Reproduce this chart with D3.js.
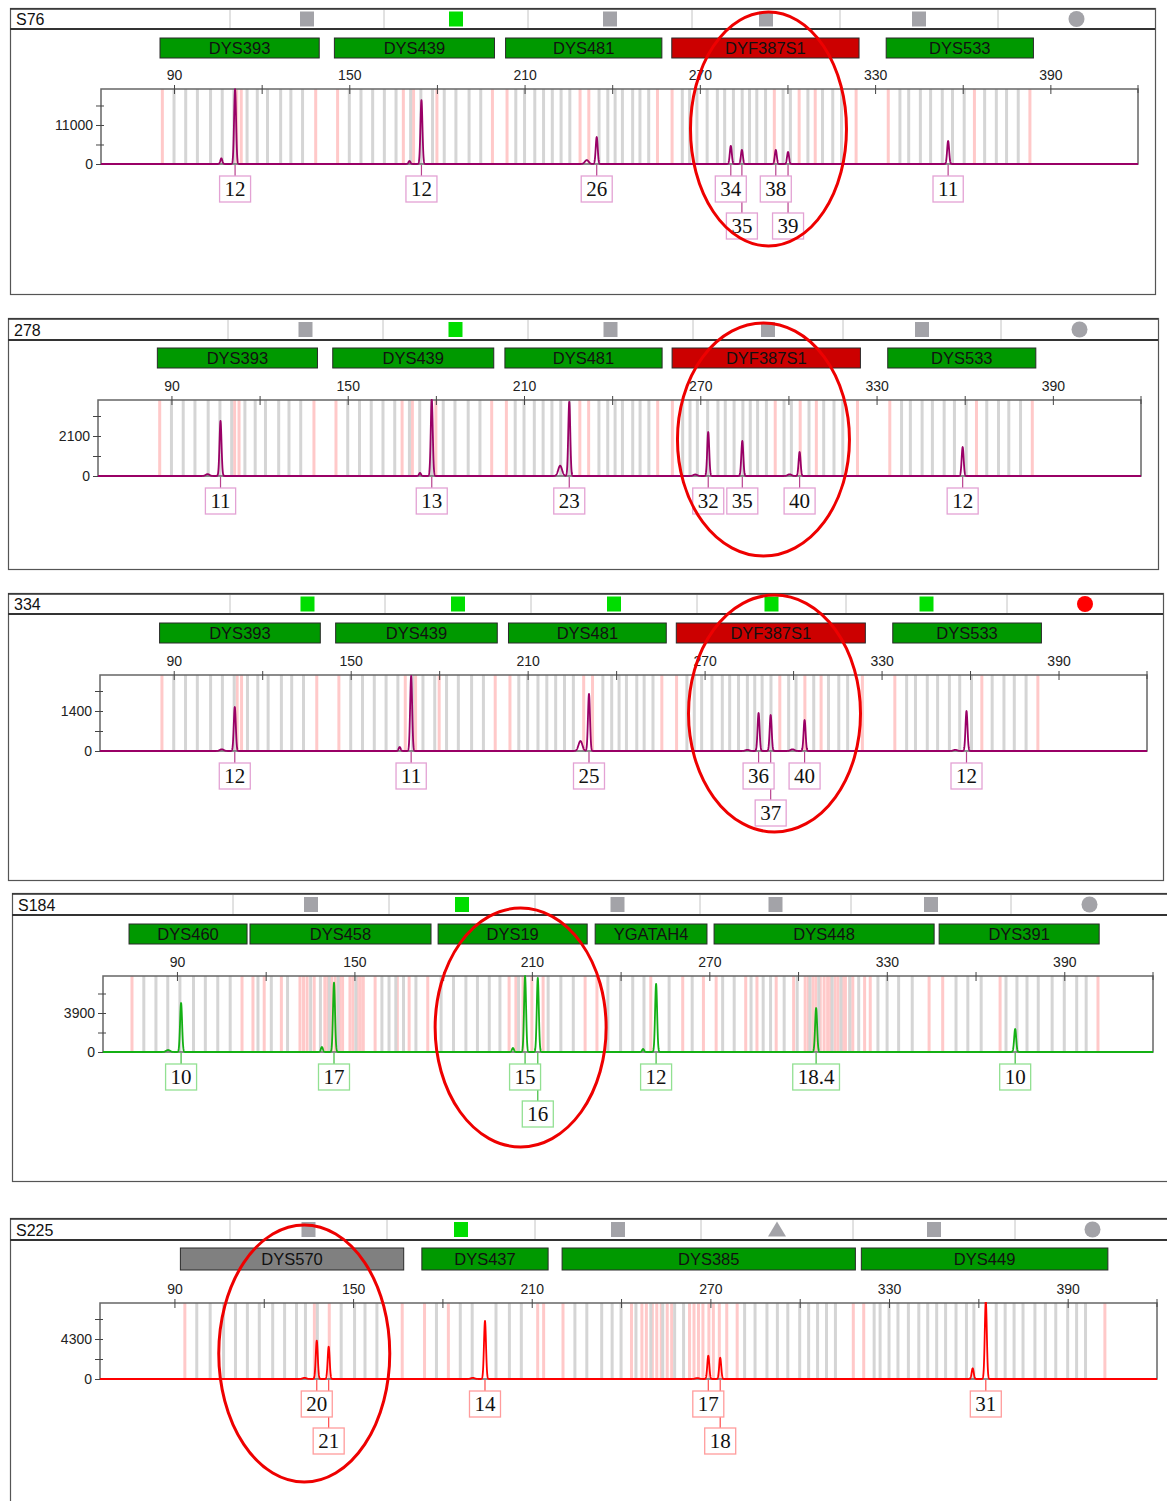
<!DOCTYPE html>
<html>
<head>
<meta charset="utf-8">
<script src="https://cdn.jsdelivr.net/npm/d3@7"></script>
<style>
  body { margin: 0; background: #fff; }
  svg { display: block; }
</style>
</head>
<body>
<svg id="chart" width="1167" height="1501"></svg>
<script>
// ---------- marker panels (size ranges in bp) ----------
const purpleMarkerNames = ["DYS393", "DYS439", "DYS481", "DYF387S1", "DYS533"];
const purpleMarkerStart = [85.2, 144.9, 203.5, 260.4, 333.8];
const purpleMarkerEnd   = [139.7, 199.7, 257.0, 324.5, 384.2];

const greenMarkerNames = ["DYS460", "DYS458", "DYS19", "YGATAH4", "DYS448", "DYS391"];
const greenMarkerStart = [73.8, 114.7, 178.3, 231.4, 271.6, 347.7];
const greenMarkerEnd   = [113.7, 175.9, 228.7, 269.2, 346.0, 401.8];

const redMarkerNames = ["DYS570", "DYS437", "DYS385", "DYS449"];
const redMarkerStart = [92.0, 173.1, 220.2, 320.7];
const redMarkerEnd   = [167.0, 215.5, 318.7, 403.5];

// ---------- allelic ladder bins (bp) ----------
const purpleLadderBins = [90, 94, 98, 102.5, 106.5, 110.5, 115, 118.5, 122, 126.5, 130, 134,
  150, 154, 158, 162, 166, 171, 174.5, 178.5, 182.5, 186.5, 191, 195,
  207, 210, 213.5, 216.5, 219.5, 222.5, 225.5, 235.5, 238.5, 241, 243.5, 247, 249.5, 252.5,
  264, 266.5, 269, 272.5, 276, 278.5, 281.5, 284.5, 287, 289.5, 292.5, 298.5, 301, 307, 312, 315.5, 318.5,
  338.5, 341.5, 345.5, 349, 353, 356.5, 360.5, 367.5, 371.5, 375, 379];
const purpleVirtualBins = [86, 111.5, 113, 138.5, 146, 168.5, 172, 180, 199, 204, 229, 232, 255.5,
  260.5, 295.5, 304, 309.5, 323.5, 334.5, 364, 383];

const greenLadderBins = [78.8, 82.9, 86.9, 91, 95.6, 99.6, 103.8, 108,
  117.4, 121.9, 127.4, 135.2, 138.5, 141.5, 144.5, 150.5, 159.3, 161.7, 164, 166.6, 170.8,
  179.3, 183.5, 187.7, 191.6, 195.6, 199.2, 205.5, 215.5, 219.8, 224,
  235.7, 240, 244.1, 247.9, 256.4, 264.2,
  274.5, 278.4, 284.1, 288.2, 290.7, 295.3, 299.7, 304, 307, 311.5, 314.5, 317.5, 320.5, 327, 330.1, 334, 338.6,
  353.4, 357.4, 361.9, 370.3, 374, 377.4, 381.2, 385.9, 390, 394.2, 397.4];
const greenVirtualBins = [74.8, 112, 115.7, 119.5, 125.3, 131.6, 132.8, 134, 136.4,
  140, 141, 142.3, 143.5, 145, 146, 148.5, 149.5, 151, 152, 153, 157, 164.5, 168.5, 174.8,
  202.3, 204.6, 207, 210, 213.8, 228, 232, 250.2, 261, 268,
  272.3, 282.3, 286.1, 292.6, 298.5, 302.4, 303.5, 305, 306, 307.5, 308.8, 310, 311, 312.5, 313.5,
  315, 316, 317.5, 318.5, 322.5, 324.4, 344.3, 348.9, 368.3, 401.4];

const redLadderBins = [97.5, 102, 106.5, 110.5, 114.5, 118.5, 123, 127, 131, 134, 138, 146, 150.5, 154, 158,
  178, 186, 190, 198, 202.5, 206.5,
  224.5, 228.5, 233.5, 237, 240, 245, 250, 254, 258, 261, 281.5, 285, 289, 292.5, 296, 300, 303, 306, 309, 312,
  325, 327, 330, 333, 336.5, 340, 343, 346, 349, 352.5, 356, 358.5, 366, 369, 372, 375, 379, 382.5, 386, 390, 393, 396];
const redVirtualBins = [93.5, 137, 142, 166.5, 174, 182, 212, 214, 220.5, 243.5, 247, 248.5, 250.5, 252,
  253.5, 255.5, 257, 263, 264.5, 266, 267.5, 269.5, 271, 273, 275.5, 279, 318, 321.5, 402.5];

// ---------- samples ----------
const sampleNames  = ["S76", "278", "334", "S184", "S225"];
const sampleDyes   = ["purple", "purple", "purple", "green", "red"];
const sampleYLabel = [11000, 2100, 1400, 3900, 4300];
const sampleYMax   = [21150, 3990, 2660, 7600, 8170];
const sizeTicks    = [90, 120, 150, 180, 210, 240, 270, 300, 330, 360, 390];
const sizeLabels   = [90, 150, 210, 270, 330, 390];

// per-marker call status for each sample
const sampleMarkerStatus = [
  ["pass", "pass", "pass", "fail", "pass"],
  ["pass", "pass", "pass", "fail", "pass"],
  ["pass", "pass", "pass", "fail", "pass"],
  ["pass", "pass", "pass", "pass", "pass", "pass"],
  ["check", "pass", "pass", "pass"]
];

// quality flags shown in each header
const sampleFlags = [
  ["gray-square", "green-square", "gray-square", "gray-square", "gray-square", "gray-circle"],
  ["gray-square", "green-square", "gray-square", "gray-square", "gray-square", "gray-circle"],
  ["green-square", "green-square", "green-square", "green-square", "green-square", "red-circle"],
  ["gray-square", "green-square", "gray-square", "gray-square", "gray-square", "gray-circle"],
  ["gray-square", "green-square", "gray-square", "gray-triangle", "gray-square", "gray-circle"]
];

// peaks: [size bp, height RFU, allele call or null, width class]
const s76Peaks = [
  [106.2, 1600, null, "n"], [110.9, 21100, "12", "n"],
  [170.6, 850, null, "n"], [174.7, 18000, "12", "n"],
  [231.3, 1100, null, "w"], [234.7, 7600, "26", "n"],
  [280.6, 5100, "34", "n"], [284.4, 3950, "35", "n"], [296.0, 3950, "38", "n"], [300.2, 3400, "39", "n"],
  [355.0, 6500, "11", "n"]
];
const s278Peaks = [
  [102.3, 100, null, "w"], [106.7, 2890, "11", "n"],
  [174.6, 160, null, "n"], [178.6, 4000, "13", "n"],
  [222.3, 540, null, "w"], [225.4, 3890, "23", "n"],
  [268.3, 80, null, "w"], [272.7, 2310, "32", "n"], [284.3, 1840, "35", "n"],
  [300.4, 90, null, "w"], [303.8, 1260, "40", "n"],
  [359.3, 1520, "12", "n"]
];
const s334Peaks = [
  [106.3, 60, null, "w"], [110.7, 1540, "12", "n"],
  [166.6, 140, null, "n"], [170.5, 2625, "11", "n"],
  [227.9, 350, null, "w"], [230.8, 2000, "25", "n"],
  [284.5, 40, null, "w"], [288.3, 1330, "36", "n"], [292.4, 1260, "37", "n"],
  [299.8, 60, null, "w"], [303.9, 1085, "40", "n"],
  [355.0, 40, null, "w"], [358.8, 1400, "12", "n"]
];
const s184Peaks = [
  [87.0, 200, null, "w"], [91.4, 4900, "10", "n"],
  [139.0, 500, null, "n"], [143.1, 6930, "17", "n"],
  [203.6, 400, null, "n"], [207.7, 7600, "15", "n"], [212.0, 7400, "16", "n"],
  [247.6, 300, null, "n"], [252.0, 6800, "12", "n"],
  [306.1, 4400, "18.4", "n"],
  [373.4, 2300, "10", "n"]
];
const s225Peaks = [
  [133.7, 120, null, "w"], [137.8, 4120, "20", "n"], [141.8, 3470, "21", "n"],
  [190.2, 120, null, "w"], [194.3, 6235, "14", "n"],
  [265.6, 100, null, "w"], [269.3, 2505, "17", "n"], [273.3, 2290, "18", "n"],
  [358.1, 1150, null, "n"], [362.5, 8400, "31", "n"]
];
const samplePeaks = [s76Peaks, s278Peaks, s334Peaks, s184Peaks, s225Peaks];

// ---------- dye styling ----------
const dyes = {
  purple: { names: purpleMarkerNames, start: purpleMarkerStart, end: purpleMarkerEnd,
            ladder: purpleLadderBins, virtual: purpleVirtualBins,
            trace: "#990066", box: "#e3a2d4", lead: "#b8428e" },
  green:  { names: greenMarkerNames, start: greenMarkerStart, end: greenMarkerEnd,
            ladder: greenLadderBins, virtual: greenVirtualBins,
            trace: "#14b014", box: "#92e092", lead: "#3cbc3c" },
  red:    { names: redMarkerNames, start: redMarkerStart, end: redMarkerEnd,
            ladder: redLadderBins, virtual: redVirtualBins,
            trace: "#ff0000", box: "#ff9c9c", lead: "#ff4a4a" }
};
const statusFill = { pass: "#009900", fail: "#cc0000", check: "#808080" };
const flagFill = { gray: "#a3a3a8", green: "#00dd00", red: "#ff0000" };

// ---------- page layout ----------
const panelLayout = [
  { top: 8,    bottom: 294,  left: 10, right: 1155, headH: 21, markerY: 38,   markerH: 20,
    plotTop: 89,   plotBottom: 164,  plotL: 101, plotR: 1138,
    dividers: [230, 384, 528, 692, 840, 998], ring: { bp: 293.5, cy: 129, rx: 78, ry: 117 } },
  { top: 318,  bottom: 569,  left: 8,  right: 1158, headH: 22, markerY: 348,  markerH: 20,
    plotTop: 400,  plotBottom: 476,  plotL: 98,  plotR: 1141,
    dividers: [228, 383, 528, 693, 843, 1001], ring: { bp: 291.5, cy: 439.5, rx: 86, ry: 116.5 } },
  { top: 593,  bottom: 880,  left: 8,  right: 1163, headH: 21, markerY: 623,  markerH: 20,
    plotTop: 675,  plotBottom: 751,  plotL: 100, plotR: 1147,
    dividers: [230, 385, 531, 697, 846, 1007], ring: { bp: 293.7, cy: 713.5, rx: 86, ry: 118.5 } },
  { top: 893,  bottom: 1181, left: 12, right: 1168, headH: 22, markerY: 924,  markerH: 20,
    plotTop: 976,  plotBottom: 1052, plotL: 103, plotR: 1153,
    dividers: [233, 389, 535, 700, 851, 1011], ring: { bp: 206.2, cy: 1027.5, rx: 85.5, ry: 119.5 } },
  { top: 1218, bottom: 1512, left: 10, right: 1170, headH: 22, markerY: 1248, markerH: 22,
    plotTop: 1303, plotBottom: 1379, plotL: 100, plotR: 1157,
    dividers: [230, 387, 535, 701, 853, 1015], ring: { bp: 133.6, cy: 1353.5, rx: 85.5, ry: 128.5 } }
];

const SANS = "'Liberation Sans', Arial, sans-serif";
const SERIF = "'Liberation Serif', 'Times New Roman', serif";
const svg = d3.select("#chart");
const defs = svg.append("defs");

sampleNames.forEach((name, i) => {
  const L = panelLayout[i];
  const dye = dyes[sampleDyes[i]];
  const g = svg.append("g").attr("class", "panel");

  const x = d3.scaleLinear().domain([65, 420]).range([L.plotL, L.plotR]);
  const y = d3.scaleLinear().domain([0, sampleYMax[i]]).range([L.plotBottom, L.plotTop]);

  // outer frame
  g.append("rect")
    .attr("x", L.left + 0.5).attr("y", L.top + 0.5)
    .attr("width", L.right - L.left).attr("height", L.bottom - L.top)
    .attr("fill", "#fff").attr("stroke", "#555").attr("stroke-width", 1.2);

  // header strip
  const hy = L.top + L.headH;
  g.append("line").attr("x1", L.left).attr("x2", L.right).attr("y1", L.top + 1).attr("y2", L.top + 1)
    .attr("stroke", "#333").attr("stroke-width", 1.5);
  g.append("line").attr("x1", L.left).attr("x2", L.right).attr("y1", hy).attr("y2", hy)
    .attr("stroke", "#333").attr("stroke-width", 2.2);
  g.selectAll("line.divider").data(L.dividers).enter().append("line")
    .attr("class", "divider")
    .attr("x1", d => d).attr("x2", d => d).attr("y1", L.top + 2).attr("y2", hy - 1)
    .attr("stroke", "#c4c4c4").attr("stroke-width", 1);
  g.append("text").text(name)
    .attr("x", L.left + 6).attr("y", hy - 4)
    .attr("font-family", SANS).attr("font-size", 16).attr("fill", "#111");

  // header flags
  const edges = L.dividers.concat([L.right]);
  const cyFlag = L.top + L.headH / 2 + 0.5;
  sampleFlags[i].forEach((flag, k) => {
    const [col, shape] = flag.split("-");
    const cx = (edges[k] + edges[k + 1]) / 2;
    const fill = flagFill[col];
    if (shape === "square") {
      g.append("rect").attr("x", cx - 7).attr("y", cyFlag - 7.5).attr("width", 14).attr("height", 15).attr("fill", fill);
    } else if (shape === "circle") {
      g.append("circle").attr("cx", cx).attr("cy", cyFlag).attr("r", 8).attr("fill", fill);
    } else {
      g.append("path").attr("d", `M${cx},${cyFlag - 8} L${cx + 9},${cyFlag + 7} L${cx - 9},${cyFlag + 7}Z`).attr("fill", fill);
    }
  });

  // marker boxes
  dye.names.forEach((m, k) => {
    const x0 = x(dye.start[k]), x1 = x(dye.end[k]);
    g.append("rect")
      .attr("x", x0).attr("y", L.markerY).attr("width", x1 - x0).attr("height", L.markerH)
      .attr("fill", statusFill[sampleMarkerStatus[i][k]]).attr("stroke", "#2a2a2a").attr("stroke-width", 1);
    g.append("text").text(m)
      .attr("x", (x0 + x1) / 2).attr("y", L.markerY + L.markerH / 2 + 6)
      .attr("text-anchor", "middle").attr("font-family", SANS).attr("font-size", 16.5).attr("fill", "#111");
  });

  // bins
  const plotH = L.plotBottom - L.plotTop;
  g.selectAll("rect.vbin").data(dye.virtual).enter().append("rect")
    .attr("class", "vbin").attr("x", d => x(d) - 1.5).attr("y", L.plotTop).attr("width", 3).attr("height", plotH)
    .attr("fill", "#ffc9c9");
  g.selectAll("rect.lbin").data(dye.ladder).enter().append("rect")
    .attr("class", "lbin").attr("x", d => x(d) - 1.5).attr("y", L.plotTop).attr("width", 3).attr("height", plotH)
    .attr("fill", "#d5d5d5");

  // plot frame
  g.append("rect")
    .attr("x", L.plotL).attr("y", L.plotTop).attr("width", L.plotR - L.plotL).attr("height", plotH)
    .attr("fill", "none").attr("stroke", "#666").attr("stroke-width", 1.5);

  // size axis (top)
  const xAxis = d3.axisTop(x).tickValues(sizeTicks).tickSize(4).tickPadding(5)
    .tickFormat(d => sizeLabels.includes(d) ? d : "");
  const ax = g.append("g").attr("transform", `translate(0,${L.plotTop})`).call(xAxis);
  ax.select(".domain").remove();
  ax.selectAll(".tick line").attr("y1", 5).attr("stroke", "#444");
  ax.selectAll(".tick text").attr("font-family", SANS).attr("font-size", 14).attr("fill", "#222");
  g.append("line").attr("x1", L.plotR).attr("x2", L.plotR).attr("y1", L.plotTop - 4).attr("y2", L.plotTop + 4).attr("stroke", "#444");

  // RFU axis (left)
  const yl = sampleYLabel[i];
  const yAxis = d3.axisLeft(y).tickValues([0, yl / 2, yl, yl * 1.5]).tickSize(5).tickPadding(3)
    .tickFormat(d => (d === 0 || d === yl) ? d : "");
  const ay = g.append("g").attr("transform", `translate(${L.plotL},0)`).call(yAxis);
  ay.select(".domain").remove();
  ay.selectAll(".tick line").attr("x1", 3).attr("stroke", "#444");
  ay.selectAll(".tick text").attr("font-family", SANS).attr("font-size", 14).attr("fill", "#222");

  // electropherogram trace built from the peak list
  const peaks = samplePeaks[i];
  const sizes = d3.range(65, 420.001, 0.05);
  const trace = sizes.map(s => {
    let v = 0;
    peaks.forEach(([bp, h, , w]) => {
      const sd = w === "w" ? 0.65 : 0.34;
      v += h * Math.exp(-0.5 * ((s - bp) / sd) ** 2);
    });
    return [s, v];
  });
  const clipId = "clip" + i;
  defs.append("clipPath").attr("id", clipId).append("rect")
    .attr("x", L.plotL).attr("y", L.plotTop - 1).attr("width", L.plotR - L.plotL).attr("height", plotH + 3);
  g.append("path").datum(trace)
    .attr("clip-path", `url(#${clipId})`)
    .attr("d", d3.line().x(d => x(d[0])).y(d => y(d[1])))
    .attr("fill", "none").attr("stroke", dye.trace).attr("stroke-width", 1.8).attr("stroke-linejoin", "round");

  // allele call boxes (second row when neighbours collide)
  const calls = peaks.filter(p => p[2] !== null).sort((a, b) => a[0] - b[0]);
  const boxH = 26, row1 = L.plotBottom + 12, row2 = L.plotBottom + 49;
  const lab = g.append("g");
  const items = calls.map(p => {
    const t = lab.append("text").text(p[2]).attr("font-family", SERIF).attr("font-size", 21);
    const w = t.node().getComputedTextLength() + 10;
    t.remove();
    return { cx: x(p[0]), label: p[2], w };
  });
  let lastRight = -Infinity;
  items.forEach(it => {
    const left = it.cx - it.w / 2;
    if (left < lastRight + 2) { it.row = 2; }
    else { it.row = 1; lastRight = it.cx + it.w / 2; }
    it.top = it.row === 1 ? row1 : row2;
  });
  items.forEach(it => {
    lab.append("line").attr("x1", it.cx).attr("x2", it.cx).attr("y1", L.plotBottom + 1).attr("y2", it.top)
      .attr("stroke", dye.lead).attr("stroke-width", 1.2);
  });
  items.forEach(it => {
    lab.append("rect").attr("x", it.cx - it.w / 2).attr("y", it.top).attr("width", it.w).attr("height", boxH)
      .attr("fill", "#fff").attr("stroke", dye.box).attr("stroke-width", 1.3);
    lab.append("text").text(it.label).attr("x", it.cx).attr("y", it.top + 20)
      .attr("text-anchor", "middle").attr("font-family", SERIF).attr("font-size", 21).attr("fill", "#111");
  });

  // highlighted locus ring
  g.append("ellipse")
    .attr("cx", x(L.ring.bp)).attr("cy", L.ring.cy).attr("rx", L.ring.rx).attr("ry", L.ring.ry)
    .attr("fill", "none").attr("stroke", "#ee0000").attr("stroke-width", 3);
});
</script>
</body>
</html>
